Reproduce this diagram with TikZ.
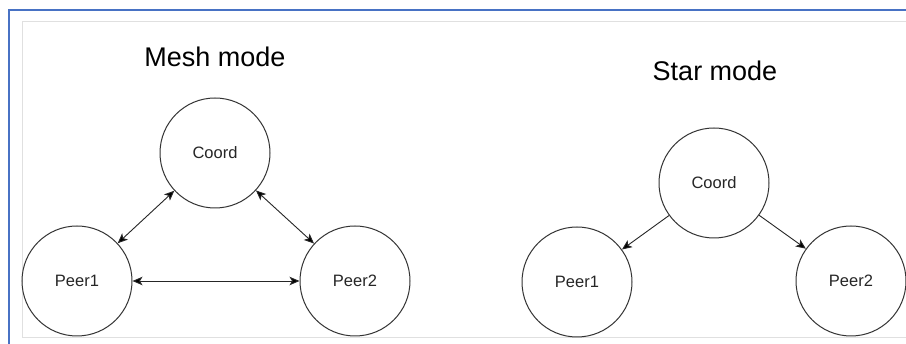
\documentclass[tikz,border=0pt]{standalone}
\usepackage{fontspec}
\setsansfont{Liberation Sans}
\usetikzlibrary{arrows.meta,positioning}
\definecolor{frameblue}{RGB}{72,114,196}

\begin{document}
\begin{tikzpicture}[x=1pt,y=-1pt,on grid,>={Stealth[length=10pt,width=8.5pt,inset=2.5pt]}]

  \tikzstyle{peer}=[circle,draw=black!80,line width=1pt,minimum size=110pt,
                    inner sep=0pt,text=black!85,font=\sffamily\fontsize{16.5}{18}\selectfont]
  \tikzstyle{title}=[font=\sffamily\fontsize{27}{30}\selectfont]
  \tikzstyle{link}=[draw=black!85,line width=0.9pt]

  \useasboundingbox (0,0) rectangle (906,344);
  \fill[white] (0,0) rectangle (906,344);

  % frames
  \draw[black!12,line width=0.8pt] (906,21) -- (22,21) -- (22,337) -- (906,337);
  \draw[frameblue,line width=2.6pt] (9,344) -- (9,10) -- (906,10);

  % mesh
  \node [title] (mtitle) at (215,57) {Mesh mode};
  \node [peer] (mcoord) at (215,153) {Coord};
  \node [peer] (mpeer1) [below left=128pt and 138pt of mcoord] {Peer1};
  \node [peer] (mpeer2) [right=278pt of mpeer1] {Peer2};

  % star
  \node [title] (stitle) at (715,71) {Star mode};
  \node [peer] (scoord) at (714,183) {Coord};
  \node [peer] (speer1) [below left=99pt and 137pt of scoord] {Peer1};
  \node [peer] (speer2) [below right=98pt and 137pt of scoord] {Peer2};

  \path[link]
  (mcoord)
  edge [<->] (mpeer1)
  edge [<->] (mpeer2)

  (mpeer1)
  edge [<->] (mpeer2)

  (scoord)
  edge [->] (speer1)
  edge [->] (speer2);

\end{tikzpicture}
\end{document}
